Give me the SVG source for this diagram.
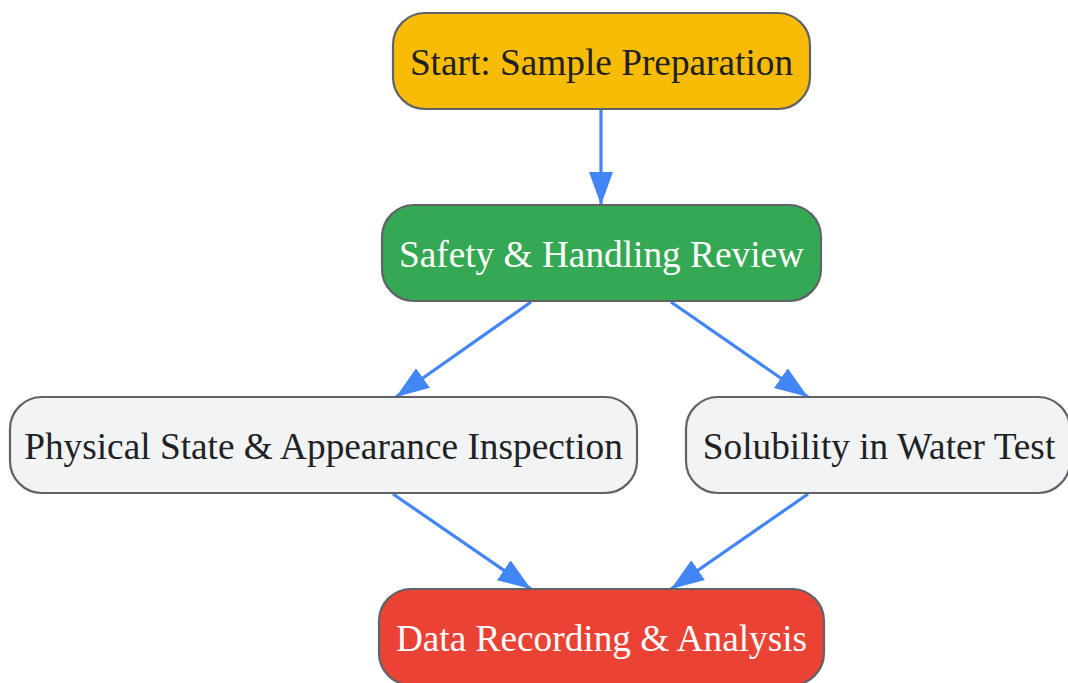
<svg xmlns="http://www.w3.org/2000/svg" width="1068" height="683" viewBox="0 0 1068 683">
<defs>
<marker id="ah" markerUnits="userSpaceOnUse" markerWidth="34" markerHeight="26" refX="33" refY="12" orient="auto">
<path d="M0,0 L33,12 L0,24 Z" fill="#4285F4"/>
</marker>
<style>
.n{stroke:#5f6368;stroke-width:2.2}
.t{font-family:"Liberation Serif","Times New Roman",serif;font-size:37.3px;text-anchor:middle;dominant-baseline:central}
.e{stroke:#4285F4;stroke-width:3.2;fill:none;marker-end:url(#ah)}
</style>
</defs>
<rect width="1068" height="683" fill="#ffffff"/>
<g id="edges">
<path class="e" d="M601,110 L601,205"/>
<path class="e" d="M531,302 L396,397"/>
<path class="e" d="M671,302 L808,397"/>
<path class="e" d="M393,494 L531,589"/>
<path class="e" d="M808,494 L671,589"/>
</g>
<g id="start">
<rect class="n" x="393" y="13" width="417" height="96" rx="32" fill="#F9BC06"/>
<text class="t" x="601.5" y="62" fill="#202124">Start: Sample Preparation</text>
</g>
<g id="safety">
<rect class="n" x="382" y="205" width="439" height="96" rx="32" fill="#34A853"/>
<text class="t" x="601.5" y="254" fill="#ffffff">Safety &amp; Handling Review</text>
</g>
<g id="physical">
<rect class="n" x="10" y="397" width="627" height="96" rx="32" fill="#F1F3F4"/>
<text class="t" x="323.5" y="446" fill="#202124">Physical State &amp; Appearance Inspection</text>
</g>
<g id="solubility">
<rect class="n" x="686" y="397" width="384" height="96" rx="32" fill="#F1F3F4"/>
<text class="t" x="879" y="446" fill="#202124">Solubility in Water Test</text>
</g>
<g id="data">
<rect class="n" x="379" y="589" width="445" height="96" rx="32" fill="#EA4335"/>
<text class="t" x="601.5" y="638" fill="#ffffff">Data Recording &amp; Analysis</text>
</g>
</svg>
